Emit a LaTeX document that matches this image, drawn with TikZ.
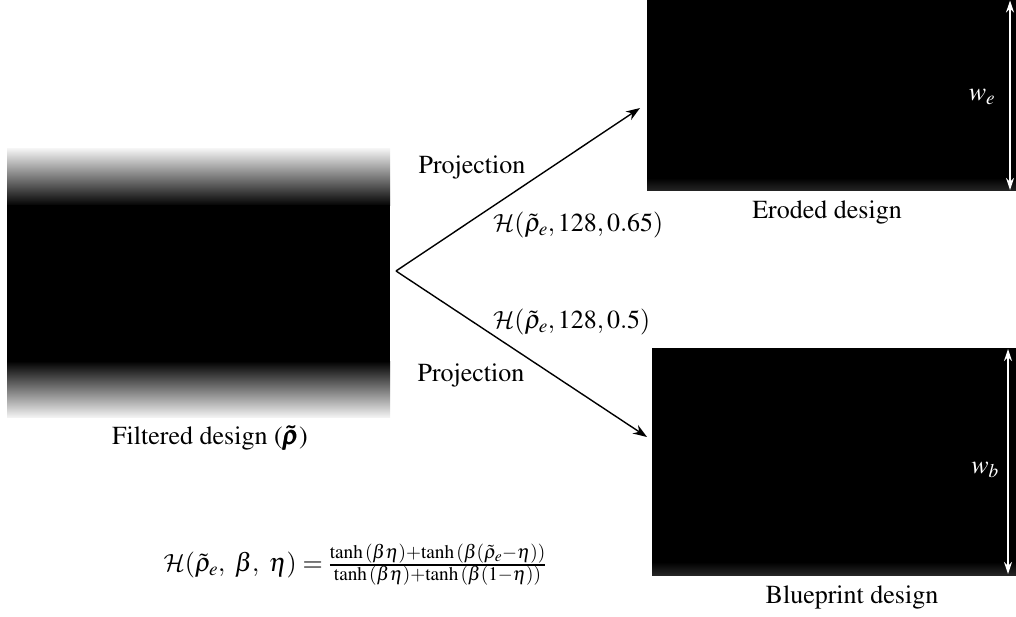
\documentclass[tikz,border=0pt]{standalone}
\usepackage{amsmath}
\usepackage[T1]{fontenc}
\usepackage{mathptmx}
\DeclareMathAlphabet{\mathcal}{OMS}{cmsy}{m}{n}
\usetikzlibrary{arrows.meta}
\begin{document}
\begin{tikzpicture}[x=1pt,y=-1pt,
  every node/.style={font=\fontsize{26}{31}\selectfont, inner sep=0pt},
  proj/.style={line width=1.4pt, -{Stealth[length=14pt,width=10pt]}},
  dim/.style={white, line width=1.2pt, {Stealth[length=12pt,width=8pt]}-{Stealth[length=12pt,width=8pt]}}]
\useasboundingbox (0,0) rectangle (1016,617);
% filtered design (blurred)
\node[draw=none, minimum width=383pt, minimum height=268pt, anchor=north west] (filt) at (7,149) {};
\shade[top color=black!5, bottom color=black] (7,149) rectangle (390,206);
\fill[black] (7,205) rectangle (390,362);
\shade[top color=black, bottom color=black!5] (7,361) rectangle (390,417);
% eroded design
\node[fill=black, minimum width=369pt, minimum height=191pt, anchor=north west] (ero) at (647,0) {};
\shade[top color=black, bottom color=black!85] (647,178) rectangle (1016,191);
% blueprint design
\node[fill=black, minimum width=364pt, minimum height=227pt, anchor=north west] (blue) at (652,348) {};
\shade[top color=black, bottom color=black!85] (652,562) rectangle (1016,575);
% connectors
\coordinate (o) at (396,271);
\coordinate (te) at (640,108);
\coordinate (tb) at (647,437);
\draw[proj] (o) -- (te);
\draw[proj] (o) -- (tb);
% dimension arrows
\coordinate (e1) at (1010,0.5);
\coordinate (e2) at (1010,190);
\coordinate (b1) at (1008,349);
\coordinate (b2) at (1008,574);
\draw[dim] (e1) -- (e2);
\draw[dim] (b1) -- (b2);
\node[text=white] (we) at (982,97) {$w_e$};
\node[text=white] (wb) at (985,470) {$w_b$};
% labels
\node (p1) at (472,168) {Projection};
\node (p2) at (471,375) {Projection};
\node[anchor=west] (h1) at (493,225) {$\mathcal{H}(\tilde{\rho}_e, 128, 0.65)$};
\node[anchor=west] (h2) at (493,322) {$\mathcal{H}(\tilde{\rho}_e, 128, 0.5)$};
\node (le) at (827,213) {Eroded design};
\node (lb) at (852,597) {Blueprint design};
\node (lf) at (210,438) {Filtered design ($\pmb{\tilde{\rho}}$)};
\node (eq) at (355,565) {$\mathcal{H}(\tilde{\rho}_e,\ \beta,\ \eta) = \frac{\tanh{(\beta\eta)}+\tanh{(\beta(\tilde{\rho}_e-\eta))}}{\tanh{(\beta\eta)}+\tanh{(\beta(1-\eta))}}$};
\end{tikzpicture}
\end{document}
